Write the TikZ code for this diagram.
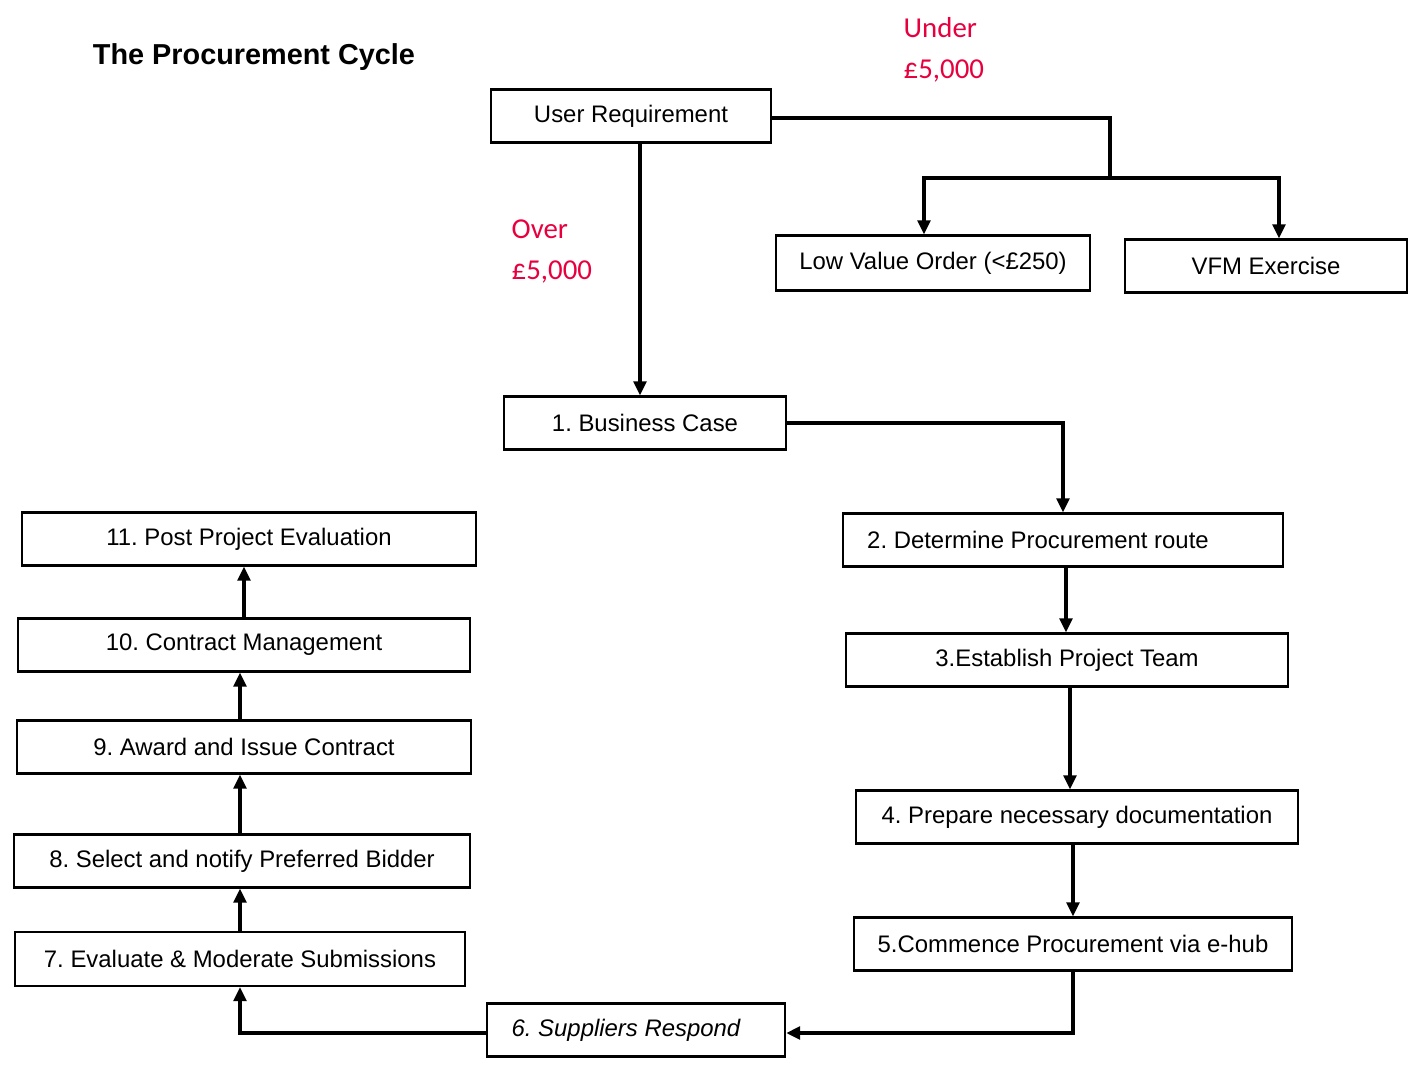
\documentclass[tikz,border=0pt]{standalone}
\usepackage{fontspec}
\setmainfont{Liberation Sans}
\newfontfamily\calib{Carlito}
\usetikzlibrary{arrows.meta}
\definecolor{overred}{RGB}{232,0,62}
\frenchspacing
\begin{document}
\begin{tikzpicture}[x=0.01cm,y=-0.01cm,
  box/.style={draw,line width=0.6pt,minimum height=0.53cm,inner sep=0pt,
    font=\fontsize{6.8}{8}\selectfont},
  flow/.style={line width=1pt,-{Triangle[length=4pt,width=3.6pt]}},
  redlbl/.style={text=overred,align=left,anchor=north west,inner sep=0pt,
    font=\calib\fontsize{8.2}{11.7}\selectfont}]
  \useasboundingbox (0,0) rectangle (1415,1067);
  % title
  \node[font=\bfseries\fontsize{8.2}{10}\selectfont] (title) at (254,57) {The Procurement Cycle};
  % top row
  \node[box,minimum width=2.80cm] (ureq) at (631,116) {User Requirement};
  \node[box,minimum width=3.13cm,minimum height=0.55cm] (lvo) at (933,263) {Low Value Order (<£250)};
  \node[box,minimum width=2.81cm] (vfm) at (1266,266) {VFM Exercise};
  \node[redlbl] (under) at (903,17) {Under\\£5,000};
  \node[redlbl] (over) at (511,219) {Over\\£5,000};
  % right column
  \node[box,minimum width=2.81cm] (s1) at (645,423) {1. Business Case};
  \node[box,minimum width=4.39cm] (s2) at (1063,540) {2. Determine Procurement route\kern0.5cm};
  \node[box,minimum width=4.41cm] (s3) at (1067,660) {3.Establish Project Team};
  \node[box,minimum width=4.41cm] (s4) at (1077,817) {4. Prepare necessary documentation};
  \node[box,minimum width=4.37cm] (s5) at (1073,944) {5.Commence Procurement via e-hub};
  \node[box,minimum width=2.98cm,font=\itshape\fontsize{6.8}{8}\selectfont] (s6) at (636,1030) {6. Suppliers Respond\kern0.2cm};
  % left column
  \node[box,minimum width=4.50cm,minimum height=0.54cm] (s7) at (240,959) {7. Evaluate \& Moderate Submissions};
  \node[box,minimum width=4.55cm] (s8) at (242,861) {8. Select and notify Preferred Bidder};
  \node[box,minimum width=4.53cm] (s9) at (244,747) {9. Award and Issue Contract};
  \node[box,minimum width=4.51cm] (s10) at (244,645) {10. Contract Management};
  \node[box,minimum width=4.54cm] (s11) at (249,539) {11. Post Project Evaluation};
  % under 5000 split
  \coordinate (split) at (1110,178);
  \draw[line width=1pt] ([yshift=-0.02cm]ureq.east) -| (split);
  \draw[flow] (split) -| ([xshift=-0.09cm]lvo.north);
  \draw[flow] (split) -| ([xshift=0.13cm]vfm.north);
  % over 5000
  \draw[flow] ([xshift=0.09cm]ureq.south) -- ([xshift=0.09cm]ureq.south |- s1.north);
  % steps
  \draw[flow] (s1.east) -| (s2.north);
  \draw[flow] ([xshift=0.03cm]s2.south) -- ([xshift=0.03cm]s2.south |- s3.north);
  \draw[flow] ([xshift=0.03cm]s3.south) -- ([xshift=0.03cm]s3.south |- s4.north);
  \draw[flow] (s5.north |- s4.south) -- (s5.north);
  \draw[flow] (s5.south) |- ([yshift=-0.03cm]s6.east);
  \draw[flow] ([yshift=-0.03cm]s6.west) -| (s7.south);
  \draw[flow] (s7.north) -- (s7.north |- s8.south);
  \draw[flow] (s7.north |- s8.north) -- (s7.north |- s9.south);
  \draw[flow] (s7.north |- s9.north) -- (s7.north |- s10.south);
  \draw[flow] (s10.north) -- (s10.north |- s11.south);
\end{tikzpicture}
\end{document}
